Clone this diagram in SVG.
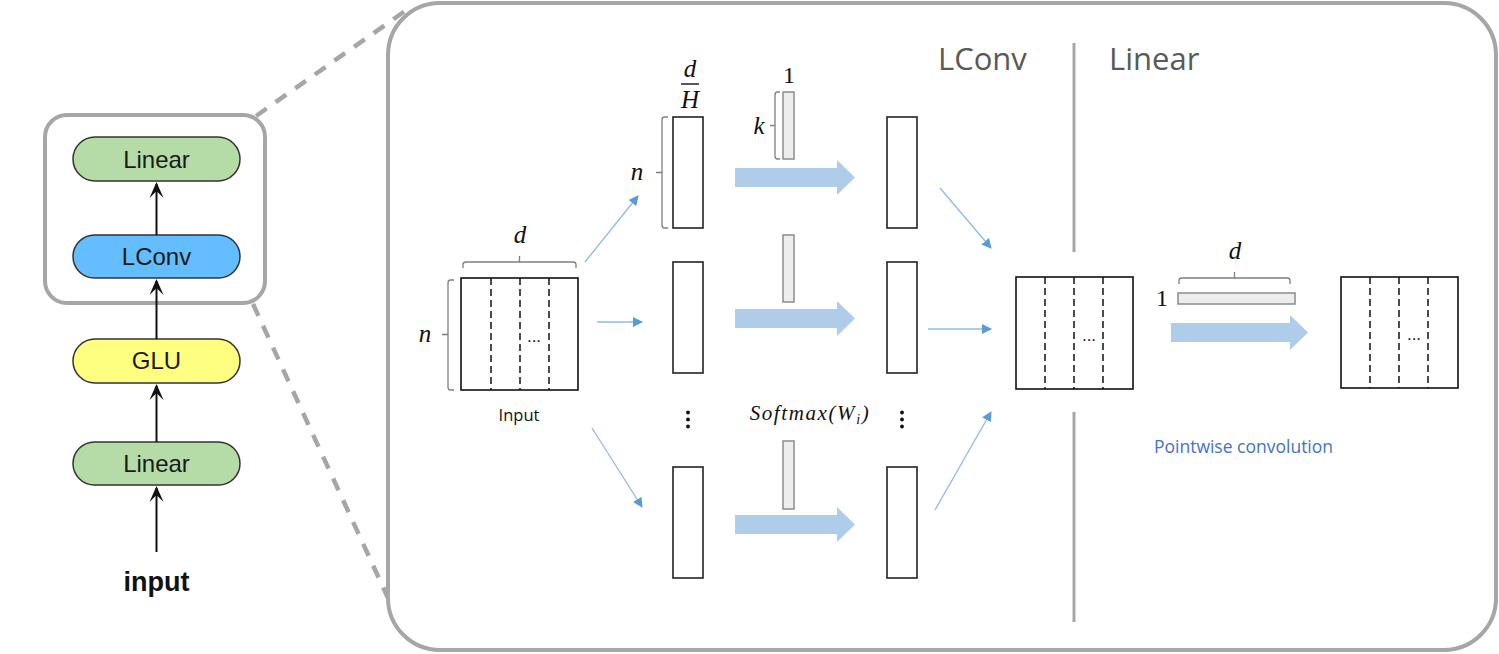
<svg xmlns="http://www.w3.org/2000/svg" width="1499" height="654" viewBox="0 0 1499 654">
<defs>
<style>
.frame{fill:none;stroke:#A6A6A6;stroke-width:4}
.dash{fill:none;stroke:#A6A6A6;stroke-width:4.5;stroke-dasharray:13 11}
.pill{stroke:#333;stroke-width:1.5}
.pt{font-family:"Liberation Sans",Arial,sans-serif;font-size:24px;fill:#1a1a1a;text-anchor:middle}
.blk{stroke:#111;stroke-width:2;fill:none}
.mat{fill:#fff;stroke:#111;stroke-width:1.6}
.dl{stroke:#111;stroke-width:1.5;stroke-dasharray:7 4}
.col{fill:#fff;stroke:#222;stroke-width:1.6}
.ker{fill:#EDEDED;stroke:#8C8C8C;stroke-width:1.5}
.brace{fill:none;stroke:#7F7F7F;stroke-width:1.3}
.thin{stroke:#8DBAE6;stroke-width:1.3;fill:none;marker-end:url(#ah)}
.big{fill:#AFCDEA}
.math{font-family:"Liberation Serif","DejaVu Serif",serif;font-style:italic;font-size:25px;fill:#111;text-anchor:middle}
.num{font-family:"Liberation Serif","DejaVu Serif",serif;font-size:24px;fill:#111;text-anchor:middle}
.ttl{font-family:"Open Sans","Liberation Sans",Arial,sans-serif;font-size:31px;fill:#595959}
.ell{font-family:"Liberation Sans",Arial,sans-serif;font-size:17px;fill:#111;text-anchor:middle}
.dots{fill:#111}
</style>
<marker id="ah" viewBox="0 0 10 10" refX="9" refY="5" markerWidth="10" markerHeight="10" markerUnits="userSpaceOnUse" orient="auto">
<path d="M0,0 L10,5 L0,10 Z" fill="#5B9BD5"/>
</marker>
</defs>
<rect width="1499" height="654" fill="#fff"/>

<!-- zoom frames -->
<g id="frames">
<rect class="frame" x="388" y="3" width="1108" height="647" rx="52"/>
<rect class="frame" x="45" y="115" width="220" height="188" rx="22"/>
<line class="dash" x1="256" y1="116" x2="405" y2="11"/>
<line class="dash" x1="253" y1="304" x2="388" y2="598"/>
</g>

<!-- left stack -->
<g id="pill-linear-top"><rect class="pill" x="73" y="137" width="167" height="44" rx="22" fill="#B5DBA7"/><text class="pt" x="156.5" y="168">Linear</text></g>
<g id="pill-lconv"><rect class="pill" x="73" y="235" width="167" height="43" rx="21.5" fill="#63BDFF"/><text class="pt" x="156.5" y="265">LConv</text></g>
<g id="pill-glu"><rect class="pill" x="73" y="339" width="167" height="44" rx="22" fill="#FEFE80"/><text class="pt" x="156.5" y="369">GLU</text></g>
<g id="pill-linear-bot"><rect class="pill" x="73" y="442" width="167" height="43" rx="21.5" fill="#B5DBA7"/><text class="pt" x="156.5" y="472">Linear</text></g>
<g id="input-label"><text x="156.5" y="591" font-family="Liberation Sans,Arial,sans-serif" font-size="27" font-weight="bold" fill="#111" text-anchor="middle">input</text></g>

<g id="left-connectors">
<line class="blk" x1="156.5" y1="552" x2="156.5" y2="488"/>
<path d="M149.5,502 L156.5,486 L163.5,502 L156.5,495 Z" fill="#111"/>
<line class="blk" x1="156.5" y1="442" x2="156.5" y2="386"/>
<path d="M149.5,400 L156.5,384 L163.5,400 L156.5,393 Z" fill="#111"/>
<line class="blk" x1="156.5" y1="339" x2="156.5" y2="281"/>
<path d="M149.5,295 L156.5,279 L163.5,295 L156.5,288 Z" fill="#111"/>
<line class="blk" x1="156.5" y1="235" x2="156.5" y2="184"/>
<path d="M149.5,198 L156.5,182 L163.5,198 L156.5,191 Z" fill="#111"/>
</g>

<!-- titles and divider -->
<g id="titles">
<text class="ttl" x="938" y="70">LConv</text>
<text class="ttl" x="1109" y="70">Linear</text>
<line x1="1074" y1="43" x2="1074" y2="252" stroke="#A6A6A6" stroke-width="3"/>
<line x1="1074" y1="412" x2="1074" y2="622" stroke="#A6A6A6" stroke-width="3"/>
</g>

<!-- input matrix -->
<g id="input-matrix">
<rect class="mat" x="461" y="278" width="117" height="112"/>
<line class="dl" x1="491" y1="278" x2="491" y2="390"/>
<line class="dl" x1="520" y1="278" x2="520" y2="390"/>
<line class="dl" x1="549" y1="278" x2="549" y2="390"/>
<text class="ell" x="534" y="342">...</text>
<path class="brace" d="M463,268 L463,264.5 Q463,262 466,262 L573,262 Q576,262 576,264.5 L576,268 M519.5,262 L519.5,256"/>
<text class="math" x="520" y="243">d</text>
<path class="brace" d="M454,280 L450.5,280 Q448,280 448,283 L448,387 Q448,390 450.5,390 L454,390 M448,334.5 L442,334.5"/>
<text class="math" x="425" y="342">n</text>
<text x="519" y="421" font-family="Open Sans,Liberation Sans,Arial,sans-serif" font-size="16.5" fill="#111" text-anchor="middle">Input</text>
</g>

<!-- head column (input side) -->
<g id="col-in-1">
<rect class="col" x="673" y="117" width="30" height="111"/>
<text class="math" x="690" y="77">d</text>
<line x1="681" y1="84" x2="699" y2="84" stroke="#111" stroke-width="1.4"/>
<text class="math" x="690" y="108">H</text>
<path class="brace" d="M668,117 L664.5,117 Q662,117 662,120 L662,225 Q662,228 664.5,228 L668,228 M662,172.5 L656,172.5"/>
<text class="math" x="637" y="180">n</text>
</g>
<g id="col-in-2"><rect class="col" x="673" y="262" width="30" height="111"/></g>
<g id="col-in-3"><rect class="col" x="673" y="467" width="30" height="111"/></g>
<g id="vdots-1"><circle class="dots" cx="688" cy="412.5" r="1.9"/><circle class="dots" cx="688" cy="419.5" r="1.9"/><circle class="dots" cx="688" cy="426.5" r="1.9"/></g>

<!-- kernels -->
<g id="kernel-1">
<rect class="ker" x="783" y="92" width="11" height="67"/>
<text class="num" x="789" y="83">1</text>
<path class="brace" d="M780,92 L777.5,92 Q775,92 775,95 L775,156 Q775,159 777.5,159 L780,159 M775,125.5 L770,125.5"/>
<text class="math" x="759" y="134">k</text>
</g>
<g id="kernel-2"><rect class="ker" x="783" y="235" width="11" height="67"/></g>
<g id="kernel-3"><rect class="ker" x="783" y="441" width="11" height="68"/></g>
<g id="softmax-label"><text x="810" y="420" font-family="Liberation Serif,DejaVu Serif,serif" font-style="italic" font-size="21" fill="#111" text-anchor="middle" letter-spacing="1.6">Softmax(W<tspan font-size="14" dy="4">i</tspan><tspan dy="-4">)</tspan></text></g>

<!-- head column (output side) -->
<g id="col-out-1"><rect class="col" x="887" y="117" width="30" height="111"/></g>
<g id="col-out-2"><rect class="col" x="887" y="262" width="30" height="111"/></g>
<g id="col-out-3"><rect class="col" x="887" y="467" width="30" height="111"/></g>
<g id="vdots-2"><circle class="dots" cx="902" cy="412.5" r="1.9"/><circle class="dots" cx="902" cy="419.5" r="1.9"/><circle class="dots" cx="902" cy="426.5" r="1.9"/></g>

<!-- merged matrix -->
<g id="merged-matrix">
<rect class="mat" x="1016" y="277" width="117" height="112"/>
<line class="dl" x1="1045" y1="277" x2="1045" y2="389"/>
<line class="dl" x1="1074" y1="277" x2="1074" y2="389"/>
<line class="dl" x1="1103" y1="277" x2="1103" y2="389"/>
<text class="ell" x="1089" y="341">...</text>
</g>

<!-- pointwise kernel -->
<g id="pointwise-kernel">
<rect class="ker" x="1178" y="293" width="117" height="11"/>
<text class="num" x="1162" y="306">1</text>
<path class="brace" d="M1179,284 L1179,280.5 Q1179,278 1182,278 L1287,278 Q1290,278 1290,280.5 L1290,284 M1234.5,278 L1234.5,272"/>
<text class="math" x="1235" y="259">d</text>
<text x="1243.5" y="453" font-family="Open Sans,Liberation Sans,Arial,sans-serif" font-size="17.5" fill="#4472C4" text-anchor="middle">Pointwise convolution</text>
</g>

<!-- output matrix -->
<g id="output-matrix">
<rect class="mat" x="1341" y="277" width="117" height="111"/>
<line class="dl" x1="1370" y1="277" x2="1370" y2="388"/>
<line class="dl" x1="1399" y1="277" x2="1399" y2="388"/>
<line class="dl" x1="1428" y1="277" x2="1428" y2="388"/>
<text class="ell" x="1414" y="340">...</text>
</g>

<!-- connectors -->
<g id="connectors">
<line class="thin" x1="585" y1="262" x2="638" y2="196"/>
<line class="thin" x1="597" y1="322" x2="642" y2="322"/>
<line class="thin" x1="592" y1="428" x2="642" y2="507"/>
<line class="thin" x1="940" y1="188" x2="991" y2="248"/>
<line class="thin" x1="928" y1="329" x2="991" y2="329"/>
<line class="thin" x1="935" y1="510" x2="991" y2="412"/>
<polygon class="big" points="735,168 837,168 837,160 855,177.5 837,195 837,187 735,187"/>
<polygon class="big" points="735,309 837,309 837,301 855,318.5 837,336 837,328 735,328"/>
<polygon class="big" points="735,515 837,515 837,507 855,524.5 837,542 837,534 735,534"/>
<polygon class="big" points="1171,323 1290,323 1290,315 1308,332.5 1290,350 1290,342 1171,342"/>
</g>
</svg>
